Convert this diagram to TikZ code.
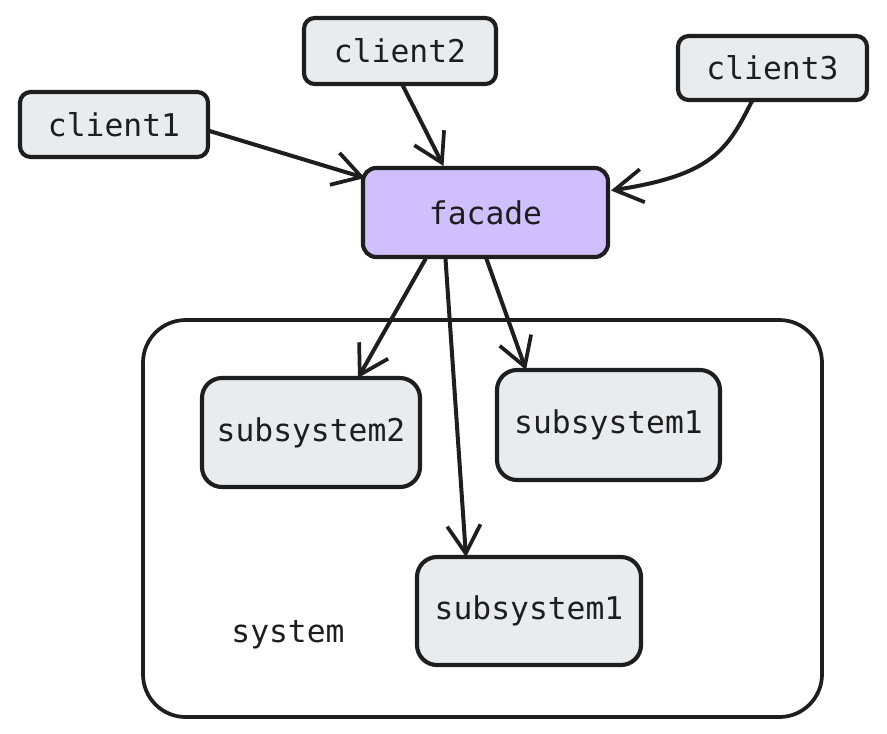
\documentclass[tikz,border=0pt]{standalone}
\usepackage{fontspec}
\setmonofont{DejaVu Sans Mono}
\usetikzlibrary{arrows.meta,calc}
\definecolor{inkc}{HTML}{1E1E1E}
\definecolor{boxgray}{HTML}{E9ECEF}
\definecolor{lavender}{HTML}{D0BFFF}
\begin{document}
\begin{tikzpicture}[x=0.75pt,y=-0.75pt,
  every node/.style={inner sep=0pt, outer sep=0pt},
  labelfont/.style={font=\ttfamily\fontsize{23.5}{28}\selectfont, text=inkc},
  clientbox/.style={draw=inkc, fill=boxgray, line width=3.1pt, rounded corners=8pt, labelfont},
  facadebox/.style={clientbox, fill=lavender, rounded corners=10pt},
  subbox/.style={draw=inkc, fill=boxgray, line width=3.1pt, rounded corners=15pt, labelfont},
  systembox/.style={draw=inkc, line width=2.8pt, rounded corners=32pt},
  conn/.style={draw=inkc, line width=3pt, line cap=round,
    -{Straight Barb[length=21pt,width=25pt,line width=2.8pt]}}
]
\useasboundingbox (0,0) rectangle (887,733);
\fill[white] (0,0) rectangle (887,733);

% container
\node[systembox, minimum width=509.25pt, minimum height=297.75pt] (sys) at (482.5,518.5) {};
\node[labelfont] (syslabel) at (288,635) {system};

% clients
\node[clientbox, minimum width=141pt, minimum height=48.75pt] (c1) at (114,124.5) {client1};
\node[clientbox, minimum width=144pt, minimum height=49.5pt] (c2) at (400,51) {client2};
\node[clientbox, minimum width=141.75pt, minimum height=48pt] (c3) at (772.5,68) {client3};

% facade
\node[facadebox, minimum width=183.75pt, minimum height=66.75pt] (fac) at (485.5,212.5) {facade};

% subsystems
\node[subbox, minimum width=163.5pt, minimum height=81.75pt] (s2) at (311,432.5) {subsystem2};
\node[subbox, minimum width=167.25pt, minimum height=82.5pt] (s1r) at (608.5,425) {\raisebox{2pt}{subsystem1}};
\node[subbox, minimum width=168pt, minimum height=81pt] (s1b) at (529,611) {subsystem1};

% connectors
\draw[conn] ($(c1.east)+(0,6)$) -- ($(fac.north west)+(2,10)$);
\draw[conn] ($(c2.south)+(2,0)$) -- ($(fac.north)+(-42,-2)$);
\draw[conn] ($(c3.south)+(-20,0)$) .. controls ($(c3.south)+(-45,50)$) and ($(c3.south)+(-60,75)$) .. ($(fac.east)+(3,-22)$);
\draw[conn] ($(fac.south)+(-60,2)$) -- ($(s2.north)+(47,0)$);
\draw[conn] ($(fac.south)+(-40,2)$) -- ($(s1b.north)+(-63,0)$);
\draw[conn] ($(fac.south)+(1,2)$) -- ($(s1r.north)+(-82.5,0)$);
\end{tikzpicture}
\end{document}
